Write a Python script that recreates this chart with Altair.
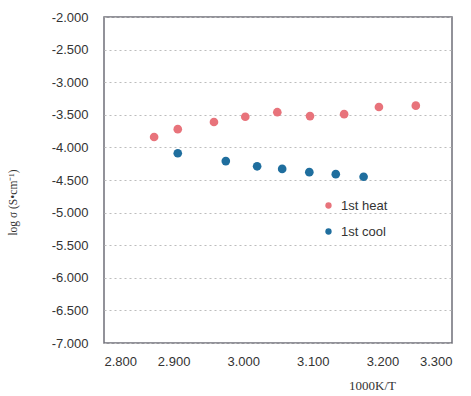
import altair as alt
import pandas as pd

heat_x = [2.872, 2.906, 2.958, 3.003, 3.049, 3.096, 3.145, 3.195, 3.248]
heat_y = [-3.84, -3.72, -3.61, -3.53, -3.46, -3.52, -3.49, -3.38, -3.36]
cool_x = [2.906, 2.975, 3.020, 3.056, 3.095, 3.133, 3.173]
cool_y = [-4.09, -4.21, -4.29, -4.33, -4.38, -4.41, -4.45]
series = ["1st heat", "1st cool"]
colors = ["#E8737B", "#1F6E9E"]

rows = [{"x": a, "y": b, "s": series[0]} for a, b in zip(heat_x, heat_y)]
rows += [{"x": a, "y": b, "s": series[1]} for a, b in zip(cool_x, cool_y)]
df = pd.DataFrame(rows)

chart = alt.Chart(df).mark_circle(size=75, opacity=1).encode(
    x=alt.X("x:Q", scale=alt.Scale(domain=[2.8, 3.3], nice=False, zero=False),
            axis=alt.Axis(title="1000K/T", values=[2.8, 2.9, 3.0, 3.1, 3.2, 3.3],
                          format=".3f", grid=False, ticks=False, domain=False,
                          labelFont="Liberation Sans", labelFontSize=13, labelColor="#333",
                          labelPadding=12, titleFont="Liberation Serif", titleFontSize=13,
                          titleFontWeight="normal", titleColor="#333",
                          titleX=268, titleY=36, titleAnchor="middle")),
    y=alt.Y("y:Q", scale=alt.Scale(domain=[-7, -2], nice=False, zero=False),
            axis=alt.Axis(title="log σ (S•cm⁻¹)",
                          values=[-7, -6.5, -6, -5.5, -5, -4.5, -4, -3.5, -3, -2.5, -2],
                          labelExpr="replace(format(datum.value, '.3f'), '\u2212', '-')",
                          grid=True, gridColor="#bdbdbd", gridDash=[2, 3], gridWidth=1,
                          ticks=False, domain=False,
                          labelFont="Liberation Sans", labelFontSize=13, labelColor="#333",
                          labelPadding=16, titleFont="Liberation Serif", titleFontSize=11.5,
                          titleFontWeight="normal", titleColor="#333",
                          titleX=-86, titleY=185)),
    color=alt.Color("s:N", scale=alt.Scale(domain=series, range=colors),
                    legend=alt.Legend(title=None, orient="none", legendX=218, legendY=182,
                                      symbolType="circle", symbolSize=40, padding=0,
                                      labelFont="Liberation Sans", labelFontSize=13,
                                      labelColor="#333", rowPadding=12, labelOffset=6)),
).properties(
    width=348, height=326,
    autosize=alt.AutoSizeParams(type="none"),
    padding={"left": 104, "top": 17, "right": 19, "bottom": 53},
).configure(
    background="white",
    view=alt.ViewConfig(stroke="#6f6f78", strokeWidth=1.5),
)

chart.save("out.html", embed_options={"renderer": "svg", "actions": False})
